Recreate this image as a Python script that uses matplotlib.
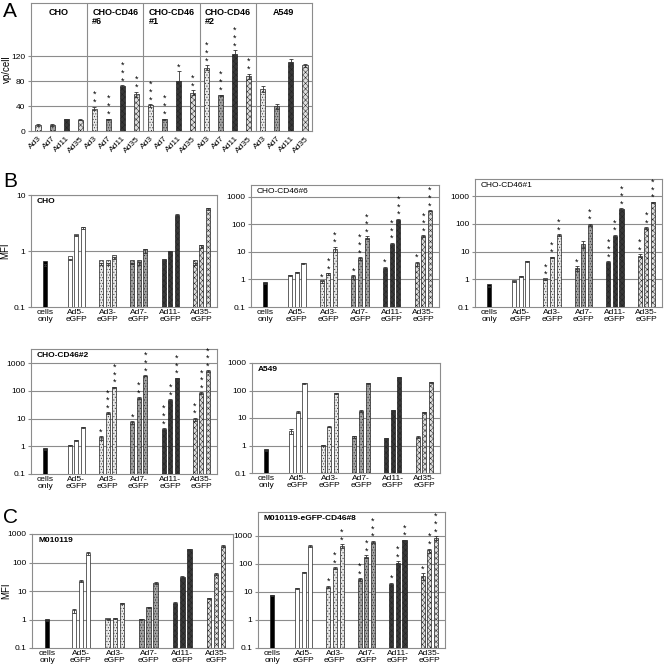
import matplotlib
matplotlib.use('Agg')
import matplotlib.pyplot as plt
from matplotlib.ticker import FixedLocator, FixedFormatter

plt.rcParams['font.family'] = ['Liberation Sans', 'DejaVu Sans']
plt.rcParams['font.size'] = 6
plt.rcParams['hatch.linewidth'] = 0.35

# ---- panel A data (vp/cell) ----
a_groups = ['CHO', 'CHO-CD46\n#6', 'CHO-CD46\n#1', 'CHO-CD46\n#2', 'A549']
a_viruses = ['Ad3', 'Ad7', 'Ad11', 'Ad35']
a_vals = [10, 10, 19, 18,
          36, 19, 72, 59,
          41, 19, 80, 61,
          101, 57, 124, 88,
          67, 40, 110, 105]
a_err = [2, 2, 1, 1,
         3, 1, 1, 4,
         2, 1, 16, 4,
         4, 1, 5, 4,
         5, 4, 6, 3]
a_stars = [0, 0, 0, 0,
           2, 3, 3, 2,
           3, 3, 1, 2,
           3, 3, 3, 2,
           0, 0, 0, 0]

# ---- panels B/C data (MFI): cells only, then Ad5, Ad3, Ad7, Ad11, Ad35 x 3 doses ----
mfi_labels = ['cells\nonly', 'Ad5-\neGFP', 'Ad3-\neGFP', 'Ad7-\neGFP', 'Ad11-\neGFP', 'Ad35-\neGFP']

cho_vals = [0.57, 0.70, 1.9, 2.6, 0.58, 0.58, 0.75, 0.60, 0.60, 1.0, 0.63, 0.92, 4.3, 0.58, 1.2, 5.7]
cho_err = [0.02, 0.02, 0.05, 0.1, 0.02, 0.02, 0.04, 0.02, 0.03, 0.08, 0.03, 0.05, 0.3, 0.02, 0.08, 0.2]
cho_stars = [0] * 16

c6_vals = [0.72, 1.38, 1.78, 3.8, 0.82, 1.55, 12.8, 1.24, 5.9, 33, 2.5, 20, 150, 3.8, 37, 316]
c6_err = [0.03, 0.05, 0.08, 0.15, 0.05, 0.15, 2.5, 0.2, 0.6, 4, 0.4, 1.5, 10, 0.6, 3, 20]
c6_stars = [0, 0, 0, 0, 1, 2, 2, 1, 3, 3, 1, 3, 3, 1, 3, 3]

c1_vals = [0.56, 0.82, 1.25, 4.3, 1.0, 6.1, 40, 2.5, 18, 92, 4.0, 37, 340, 7.0, 72, 590]
c1_err = [0.02, 0.03, 0.08, 0.2, 0.05, 0.4, 3, 0.5, 5, 8, 0.4, 3, 20, 0.8, 5, 40]
c1_stars = [0, 0, 0, 0, 2, 2, 2, 1, 0, 2, 3, 2, 3, 2, 2, 3]

c2_vals = [0.78, 1.05, 1.6, 4.8, 2.0, 15.6, 135, 7.2, 55, 350, 4.2, 45, 280, 9.5, 82, 520]
c2_err = [0.03, 0.03, 0.08, 0.3, 0.3, 1, 6, 0.9, 4, 20, 0.3, 4, 15, 1.2, 6, 30]
c2_stars = [0, 0, 0, 0, 1, 3, 3, 1, 2, 3, 3, 2, 3, 2, 3, 3]

a549_vals = [0.64, 3.4, 17, 180, 0.97, 4.8, 80, 2.1, 18, 180, 1.7, 19, 300, 2.0, 16, 200]
a549_err = [0.03, 0.7, 1.5, 10, 0.04, 0.2, 4, 0.15, 1, 10, 0.1, 1.2, 15, 0.15, 1.2, 10]
a549_stars = [0] * 16

m_vals = [0.95, 2.0, 22, 210, 1.0, 1.05, 3.7, 0.97, 2.6, 19, 3.8, 30, 290, 5.6, 40, 380]
m_err = [0.03, 0.35, 2, 30, 0.03, 0.04, 0.15, 0.04, 0.1, 1.2, 0.2, 4, 15, 0.3, 4, 25]
m_stars = [0] * 16

m8_vals = [7.6, 13.5, 50, 430, 15, 70, 430, 28, 180, 620, 19, 110, 680, 37, 300, 850]
m8_err = [0.4, 0.6, 3, 40, 1.5, 5, 60, 3, 25, 50, 2, 15, 40, 10, 50, 120]
m8_stars = [0, 0, 0, 0, 1, 2, 2, 2, 2, 3, 1, 2, 2, 1, 2, 3]

# bar looks, one per virus
styles = {
    'cells': dict(color='black', hatch=None),
    'Ad5': dict(color='white', hatch=None),
    'Ad3': dict(color='#e8e8e8', hatch='......'),
    'Ad7': dict(color='#a0a0a0', hatch='......'),
    'Ad11': dict(color='#383838', hatch='xxxxxx'),
    'Ad35': dict(color='#dedede', hatch='xxxxxx'),
}
mfi_order = ['cells'] + ['Ad5'] * 3 + ['Ad3'] * 3 + ['Ad7'] * 3 + ['Ad11'] * 3 + ['Ad35'] * 3

GRID = '#8c8c8c'


def add_stars(ax, x, top, n, step=5.5):
    # significance asterisks stacked above the error bar
    for k in range(n):
        ax.annotate('*', (x, top), xytext=(0, 3.0 + step * k), textcoords='offset points',
                    ha='center', va='center', fontsize=6.5, annotation_clip=False)


def style_axes(ax):
    for sp in ax.spines.values():
        sp.set_color(GRID)
        sp.set_linewidth(0.8)
    ax.tick_params(axis='y', length=2, color=GRID, pad=2, labelsize=6)
    ax.tick_params(axis='x', length=0, pad=1.5, labelsize=6)


def draw_mfi(ax, vals, errs, stars, title, ymax, bold=True, ylabel=None):
    xs = [0]
    for g in range(1, 6):
        xs += [g - 0.21, g, g + 0.21]
    for i, (x, v, e, n) in enumerate(zip(xs, vals, errs, stars)):
        st = styles[mfi_order[i]]
        ax.bar(x, v, width=0.13, bottom=0.1, color=st['color'], hatch=st['hatch'],
               edgecolor='#222222', linewidth=0.5, zorder=3)
        ax.errorbar(x, v, yerr=e, color='#333333', lw=0.6, capsize=1.5, capthick=0.6, zorder=4)
        add_stars(ax, x, v + e, n)
    ax.set_yscale('log')
    ax.set_ylim(0.1, ymax)
    ax.set_xlim(-0.45, 5.5)
    dec = [t for t in [0.1, 1, 10, 100, 1000] if t <= ymax * 1.01]
    ax.yaxis.set_major_locator(FixedLocator(dec))
    ax.yaxis.set_major_formatter(FixedFormatter([('%g' % t) for t in dec]))
    ax.yaxis.set_minor_locator(FixedLocator([]))
    for t in dec[1:]:
        ax.axhline(t, color=GRID, lw=0.8, zorder=1)
    ax.set_xticks(range(6))
    ax.set_xticklabels(mfi_labels, linespacing=0.95)
    style_axes(ax)
    ax.text(0.03, 0.975, title, transform=ax.transAxes, ha='left', va='top',
            fontsize=6, fontweight='bold' if bold else 'normal')
    if ylabel:
        ax.set_ylabel(ylabel, fontsize=7)
        ax.yaxis.set_label_coords(-21.0 / (ax.get_position().width * W), 0.5)


fig = plt.figure(figsize=(6.64, 6.69), dpi=100)
W, H = 664.0, 669.0


def box(x0, y0, x1, y1):
    return fig.add_axes([x0 / W, 1 - y1 / H, (x1 - x0) / W, (y1 - y0) / H])


# ---- panel A ----
axA = box(31, 3, 312, 131)
for i, v in enumerate(a_vals):
    st = styles[a_viruses[i % 4]]
    axA.bar(i, v, width=0.36, color=st['color'], hatch=st['hatch'],
            edgecolor='#222222', linewidth=0.5, zorder=3)
    axA.errorbar(i, v, yerr=a_err[i], color='#333333', lw=0.6, capsize=1.5, capthick=0.6, zorder=4)
    add_stars(axA, i, v + a_err[i], a_stars[i], step=5.8)
axA.set_xlim(-0.5, 19.5)
axA.set_ylim(0, 205)
axA.set_yticks([0, 40, 80, 120])
for t in [40, 80, 120]:
    axA.axhline(t, color=GRID, lw=0.8, zorder=1)
for d in [3.5, 7.5, 11.5, 15.5]:
    axA.axvline(d, color=GRID, lw=0.8, zorder=1)
axA.set_xticks(range(20))
axA.set_xticklabels(a_viruses * 5, rotation=45, ha='right', rotation_mode='anchor')
style_axes(axA)
axA.tick_params(axis='x', pad=3)
for g, name in enumerate(a_groups):
    axA.text(g * 4 + 1.5, 197, name, ha='center', va='top', multialignment='left',
             fontsize=6.5, fontweight='bold', linespacing=1.0)
axA.set_ylabel('vp/cell', fontsize=7)
axA.yaxis.set_label_coords(-19.0 / 281, 0.48)

# ---- panel B ----
draw_mfi(box(31, 195, 217, 307), cho_vals, cho_err, cho_stars, 'CHO', 10, ylabel='MFI')
draw_mfi(box(251, 185, 439, 307), c6_vals, c6_err, c6_stars, 'CHO-CD46#6', 2700, bold=False)
draw_mfi(box(475, 179, 662, 307), c1_vals, c1_err, c1_stars, 'CHO-CD46#1', 4100, bold=False)
draw_mfi(box(31, 349, 217, 474), c2_vals, c2_err, c2_stars, 'CHO-CD46#2', 3200)
draw_mfi(box(252, 363, 440, 473), a549_vals, a549_err, a549_stars, 'A549', 1000)

# ---- panel C ----
draw_mfi(box(32, 534, 233, 648), m_vals, m_err, m_stars, 'M010119', 1000, ylabel='MFI')
draw_mfi(box(258, 512, 445, 648), m8_vals, m8_err, m8_stars, 'M010119-eGFP-CD46#8', 7000)

fig.text(3 / W, 1 - 2 / H, 'A', fontsize=15, va='top', ha='left')
fig.text(3 / W, 1 - 172 / H, 'B', fontsize=15, va='top', ha='left')
fig.text(3 / W, 1 - 508 / H, 'C', fontsize=15, va='top', ha='left')

fig.savefig('out.png', dpi=100)
